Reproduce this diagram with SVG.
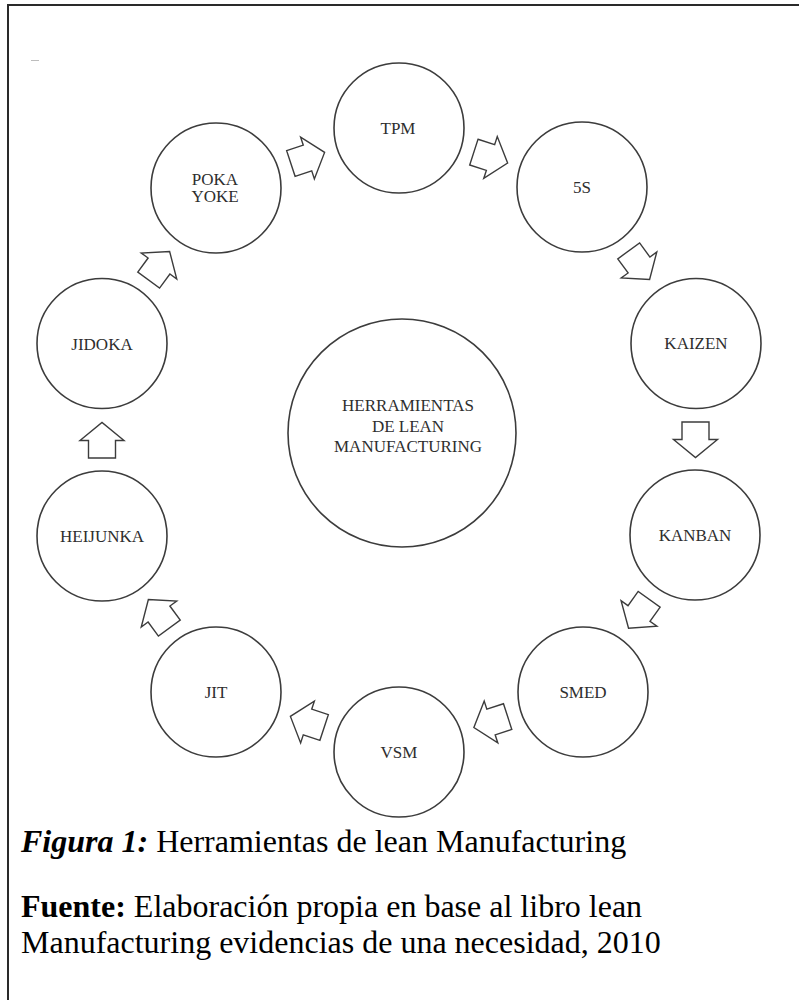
<svg xmlns="http://www.w3.org/2000/svg" width="799" height="1000" viewBox="0 0 799 1000">
  <style>
    .ring { fill: #ffffff; stroke: #3c3c3c; stroke-width: 1.6; }
    .lbl { font-family: 'Liberation Serif', 'Times New Roman', Times, 'DejaVu Serif', serif; font-size: 17px; fill: #2e2e2e; text-anchor: middle; }
    .arrow { fill: #ffffff; stroke: #3c3c3c; stroke-width: 1.4; stroke-linejoin: miter; }
    .cap { font-family: 'Liberation Serif', 'Times New Roman', Times, 'DejaVu Serif', serif; font-size: 32px; fill: #000000; }
  </style>
  <defs>
    <!-- block arrow pointing along +x, centred on the origin -->
    <path id="blockArrow" class="arrow" d="M -17.5 -13.5 L 0 -13.5 L 0 -22 L 18 0 L 0 22 L 0 13.5 L -17.5 13.5 Z"/>
  </defs>

  <rect x="0" y="0" width="799" height="1000" fill="#ffffff"/>

  <!-- page frame (top and left edges) -->
  <g id="frame" stroke="#2a2a2a" stroke-width="2" fill="none">
    <line x1="7" y1="5" x2="799" y2="5"/>
    <line x1="8" y1="4" x2="8" y2="1000"/>
  </g>
  <line x1="31" y1="60.5" x2="39" y2="60.5" stroke="#bdbdbd" stroke-width="1"/>

  <!-- connectors -->
  <g id="connectors">
    <use href="#blockArrow" transform="translate(307.5 158) rotate(-18.2)"/>
    <use href="#blockArrow" transform="translate(490.5 157.5) rotate(17.9)"/>
    <use href="#blockArrow" transform="translate(639 265) rotate(53.9)"/>
    <use href="#blockArrow" transform="translate(695.5 439.5) rotate(90)"/>
    <use href="#blockArrow" transform="translate(639 613.5) rotate(125.5)"/>
    <use href="#blockArrow" transform="translate(491 722) rotate(162)"/>
    <use href="#blockArrow" transform="translate(307.5 722) rotate(198.2)"/>
    <use href="#blockArrow" transform="translate(159 614) rotate(233.8)"/>
    <use href="#blockArrow" transform="translate(102 440.5) rotate(270)"/>
    <use href="#blockArrow" transform="translate(159 266) rotate(-53.8)"/>
  </g>

  <!-- central node -->
  <g id="node-center">
    <ellipse class="ring" cx="402" cy="433" rx="114" ry="114"/>
    <text class="lbl" x="408" y="411">HERRAMIENTAS</text>
    <text class="lbl" x="408" y="432">DE LEAN</text>
    <text class="lbl" x="408" y="452">MANUFACTURING</text>
  </g>

  <!-- tool nodes around the ring -->
  <g id="node-tpm">
    <circle class="ring" cx="399" cy="128" r="65"/>
    <text class="lbl" x="398" y="134">TPM</text>
  </g>
  <g id="node-5s">
    <circle class="ring" cx="582" cy="187" r="65"/>
    <text class="lbl" x="582" y="193">5S</text>
  </g>
  <g id="node-kaizen">
    <circle class="ring" cx="696" cy="343.5" r="65"/>
    <text class="lbl" x="696" y="349">KAIZEN</text>
  </g>
  <g id="node-kanban">
    <circle class="ring" cx="695" cy="535" r="65"/>
    <text class="lbl" x="695" y="541">KANBAN</text>
  </g>
  <g id="node-smed">
    <circle class="ring" cx="583" cy="692" r="65"/>
    <text class="lbl" x="583" y="698">SMED</text>
  </g>
  <g id="node-vsm">
    <circle class="ring" cx="399" cy="752" r="65"/>
    <text class="lbl" x="399" y="758">VSM</text>
  </g>
  <g id="node-jit">
    <circle class="ring" cx="216" cy="692" r="65"/>
    <text class="lbl" x="216" y="698">JIT</text>
  </g>
  <g id="node-heijunka">
    <circle class="ring" cx="102" cy="536" r="65"/>
    <text class="lbl" x="102" y="542">HEIJUNKA</text>
  </g>
  <g id="node-jidoka">
    <circle class="ring" cx="102" cy="343.5" r="65"/>
    <text class="lbl" x="102" y="349.5">JIDOKA</text>
  </g>
  <g id="node-pokayoke">
    <circle class="ring" cx="216" cy="188" r="65"/>
    <text class="lbl" x="215" y="185">POKA</text>
    <text class="lbl" x="215" y="202">YOKE</text>
  </g>

  <!-- caption -->
  <g id="caption">
    <text class="cap" x="21" y="852"><tspan font-weight="bold" font-style="italic">Figura 1:</tspan> Herramientas de lean Manufacturing</text>
    <text class="cap" x="21" y="917"><tspan font-weight="bold">Fuente:</tspan> Elaboración propia en base al libro lean</text>
    <text class="cap" x="21" y="953">Manufacturing evidencias de una necesidad, 2010</text>
  </g>
</svg>
